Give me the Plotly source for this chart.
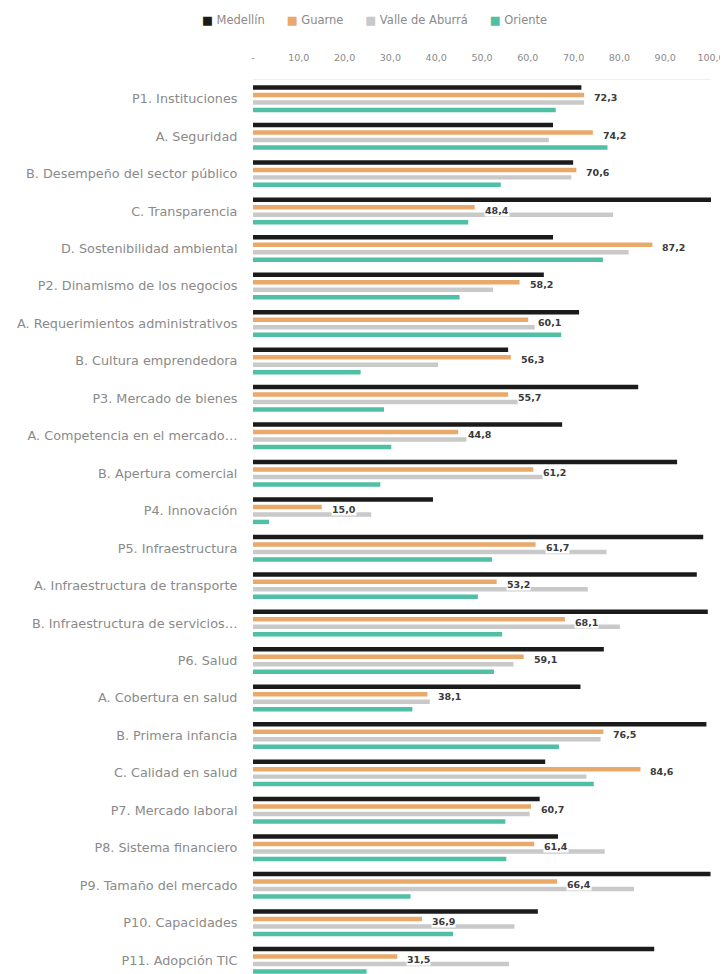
import plotly.graph_objects as go

categories = [
    "P1. Instituciones", "A. Seguridad", "B. Desempeño del sector público",
    "C. Transparencia", "D. Sostenibilidad ambiental", "P2. Dinamismo de los negocios",
    "A. Requerimientos administrativos", "B. Cultura emprendedora", "P3. Mercado de bienes",
    "A. Competencia en el mercado…", "B. Apertura comercial", "P4. Innovación",
    "P5. Infraestructura", "A. Infraestructura de transporte", "B. Infraestructura de servicios…",
    "P6. Salud", "A. Cobertura en salud", "B. Primera infancia", "C. Calidad en salud",
    "P7. Mercado laboral", "P8. Sistema financiero", "P9. Tamaño del mercado",
    "P10. Capacidades", "P11. Adopción TIC",
]

medellin = [71.7, 65.5, 69.9, 100.0, 65.5, 63.5, 71.2, 55.7, 84.1, 67.5, 92.6, 39.3,
            98.3, 96.9, 99.3, 76.6, 71.5, 99.0, 63.8, 62.6, 66.6, 99.9, 62.2, 87.6]
guarne = [72.3, 74.2, 70.6, 48.4, 87.2, 58.2, 60.1, 56.3, 55.7, 44.8, 61.2, 15.0,
          61.7, 53.2, 68.1, 59.1, 38.1, 76.5, 84.6, 60.7, 61.4, 66.4, 36.9, 31.5]
valle = [72.3, 64.6, 69.5, 78.6, 82.0, 52.4, 61.5, 40.4, 57.9, 46.6, 63.3, 25.8,
         77.2, 73.1, 80.1, 56.9, 38.6, 75.9, 72.8, 60.4, 76.8, 83.2, 57.1, 55.9]
oriente = [66.1, 77.4, 54.1, 47.0, 76.4, 45.1, 67.3, 23.5, 28.6, 30.2, 27.8, 3.5,
           52.2, 49.1, 54.4, 52.6, 34.8, 66.8, 74.4, 55.1, 55.3, 34.4, 43.7, 24.8]

tick_vals = [0, 10, 20, 30, 40, 50, 60, 70, 80, 90, 100]
tick_text = ["-", "10,0", "20,0", "30,0", "40,0", "50,0", "60,0", "70,0", "80,0", "90,0", "100,0"]

series_names = ["Medellín", "Guarne", "Valle de Aburrá", "Oriente"]
series_values = [medellin, guarne, valle, oriente]
series_colors = ["#1b1b1b", "#e9a96a", "#c9c9c9", "#4fbfa5"]

FONT = "DejaVu Sans"

# page body has an 8px margin: figure drawn 8px in from the window's top-left
W, H = 720, 966
L, R, T = 245, 703, 72

fig = go.Figure()
for name, vals, col in zip(series_names, series_values, series_colors):
    fig.add_trace(go.Bar(
        y=categories, x=vals, name=name, orientation="h",
        marker=dict(color=col, line=dict(width=0)),
        hoverinfo="x+name", showlegend=False,
    ))

# value labels on Guarne bars
for cat, v in zip(categories, guarne):
    fig.add_annotation(
        x=v, y=cat, xref="x", yref="y",
        text="<b>" + f"{v:.1f}".replace(".", ",") + "</b>",
        showarrow=False, xanchor="left", yanchor="middle",
        xshift=9, yshift=1, bgcolor="white", borderpad=0,
        font=dict(family=FONT, size=9.5, color="#3a3a3a"),
    )

# legend row (small squares + names)
sep = "\u00a0" * 6
legend_html = sep.join(
    f"<span style='color:{c}'>■</span>\u00a0{n}" for n, c in zip(series_names, series_colors)
)
fig.add_annotation(
    x=(366 - L) / (R - L), y=1 + (T - 12) / (H - T), xref="paper", yref="paper",
    text=legend_html, showarrow=False, xanchor="center", yanchor="middle",
    font=dict(family=FONT, size=11.5, color="#8a8a8a"),
)

fig.update_layout(
    width=W, height=H,
    margin=dict(l=L, r=W - R, t=T, b=0, autoexpand=False),
    paper_bgcolor="white", plot_bgcolor="white",
    barmode="group", bargap=0.2, bargroupgap=0.4,
    font=dict(family=FONT, size=10, color="#8a8a8a"),
    showlegend=False,
)
fig.update_xaxes(
    side="top", range=[0, 100], tickvals=tick_vals, ticktext=tick_text,
    showgrid=False, zeroline=False, showline=True, linecolor="#eeeeee",
    tickfont=dict(family=FONT, size=9.5, color="#8a8a8a"),
    ticks="outside", ticklen=14, tickcolor="rgba(0,0,0,0)", fixedrange=True,
    automargin=False,
)
fig.update_yaxes(
    autorange=False, range=[23.37, -0.5],
    showgrid=False, zeroline=False, showline=False,
    ticks="outside", ticklen=12, tickcolor="rgba(0,0,0,0)",
    tickfont=dict(family=FONT, size=12.8, color="#8a8a8a"),
    automargin=False,
)

fig.write_html("out.html")
